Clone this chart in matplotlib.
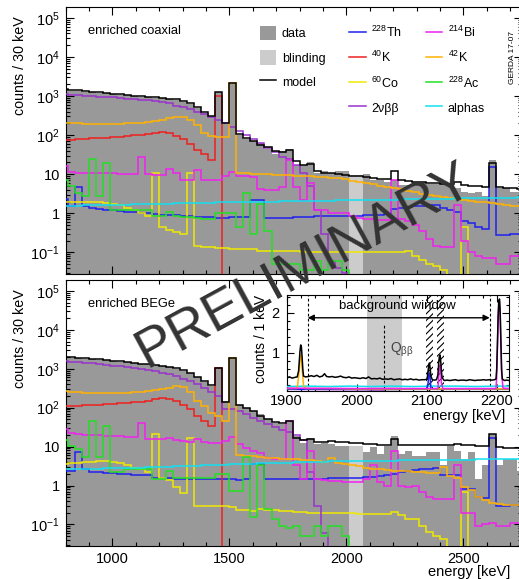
import numpy as np
import matplotlib.pyplot as plt
from matplotlib.patches import Patch
from matplotlib.lines import Line2D
from matplotlib.ticker import (FixedLocator, FixedFormatter, LogLocator,
                               NullFormatter, MultipleLocator)

plt.rcParams['font.family'] = ['Liberation Sans', 'DejaVu Sans']
plt.rcParams['mathtext.default'] = 'regular'
plt.rcParams['hatch.linewidth'] = 0.8

W, H = 519, 579

# 30 keV binning of the main spectra
edges = np.arange(780, 2761, 30)
blind_edges = [2010, 2070]
nan = np.nan

# ---------------- enriched coaxial ----------------
coax_data = [1420, 1380, 1330, 1300, 1240, 1200, 1170, 1110, 1080, 1040,
             1000, 960, 950, 900, 880, 830, 790, 720, 640, 500,
             360, 290, 1300, 190, 2100, 100, 80, 70, 62, 45,
             32, 40, 45, 17, 17, 20, 11, 12, 11, 12,
             12, nan, nan, 10, 7, 7, 6.5, 7, 5.3, 5.3,
             6.5, 6.5, 5.5, 5.5, 6, 6, 4.5, 3.5, 3.3, 3.5,
             2.8, 23, 4.5, 4.5, 3.5, 3.5]
coax_blind = 9.5
coax_model = [1500, 1450, 1400, 1350, 1300, 1250, 1200, 1150, 1100, 1060,
              1020, 990, 960, 930, 900, 860, 830, 760, 660, 520,
              380, 300, 1300, 200, 2100, 105, 85, 70, 56, 50,
              40, 36, 42, 22, 17, 18, 12, 11, 10.5, 10,
              9.5, 9.2, 9, 8.5, 8, 7.7, 7.4, 12, 7, 6.7,
              6.5, 6.3, 6.1, 5.9, 5.7, 5.5, 6.5, 5.2, 5, 4.9,
              4.8, 19, 4.6, 4.5, 4.4, 4.3]
coax_th228 = [2.3, 1.5, 4.8, 1.5, 1.4, 1.3, 1.25, 1.2, 1.15, 1.1,
              1.05, 1.0, 1.0, 0.95, 0.92, 0.9, 0.88, 0.86, 0.84, 0.82,
              0.8, 0.8, 0.78, 0.78, 0.8, 0.8, 0.8, 2.2, 2.2, 0.78,
              0.76, 0.76, 0.76, 0.8, 0.82, 0.82, 0.83, 0.83, 0.84, 0.84,
              0.84, 0.85, 0.85, 0.88, 0.9, 0.9, 0.95, 1.3, 1.4, 1.45,
              1.5, 1.5, 1.6, 1.6, 1.4, 1.25, 1.1, 0.65, 0.55, 0.45,
              0.4, 15, 0.28, 0.28, 0.3, 0.3]
coax_k40 = [75, 77, 79, 81, 83, 85, 87, 89, 92, 95,
            99, 103, 108, 114, 118, 112, 95, 78, 60, 42,
            32, 23, 1000] + [0] * 43
coax_co60 = [2.0, 2.0, 2.0, 2.0, 2.0, 1.9, 1.85, 1.75, 1.6, 1.4,
             1.2, 1.0, 0.85, 11, 0.45, 0.38, 0.33, 0.3, 10.5, 0.15,
             0.14, 0.14, 0.13, 0.13, 0.12, 0.12, 0.12, 0.12, 0.11, 0.11,
             0.11, 0.11, 0.11, 0.11, 0.1, 0.1, 0.1, 0.1, 0.1, 0.1,
             0.1, 0.1, 0.1, 0.1, 0.1, 0.1, 0.1, 0.1, 0.1, 0.11,
             0.08, 0.065, 0.05, 0.045, 0.035, 0, 0, 0.45, 0, 0,
             0, 0, 0, 0, 0, 0]
coax_2nbb = [1100, 1080, 1060, 1030, 1000, 970, 950, 920, 890, 860,
             830, 800, 770, 740, 700, 650, 560, 510, 460, 400,
             340, 290, 240, 200, 160, 125, 100, 80, 62, 48,
             36, 28, 24, 17, 11, 5, 1.2, 0.3, 0.06, 0.04,
             0.03] + [0] * 25
coax_bi214 = [16, 11.5, 10.6, 10.6, 10.6, 10.6, 10.5, 10.5, 10.4, 10.3,
              10.2, 28, 10.4, 9.8, 9.8, 14, 10.6, 7.2, 7.2, 13,
              7, 7, 7, 9, 11.5, 9, 8.8, 8.5, 4.2, 4.0,
              4.0, 4.6, 23, 4.8, 2.2, 5.9, 1.2, 1.2, 1.0, 1.0,
              1.0, 0.85, 0.75, 0.72, 0.7, 0.68, 0.68, 7.2, 0.7, 0.65,
              0.5, 0.35, 0.22, 0.15, 0.14, 0.14, 1.6, 0.2, 0.1, 0.08,
              0.07, 0.07, 0.05, 0.05, 0.08, 0.08]
coax_k42 = [210, 205, 200, 198, 195, 195, 195, 195, 198, 200,
            205, 210, 220, 235, 250, 270, 290, 290, 240, 180,
            115, 95, 90, 88, 2100, 11, 10.5, 10.3, 10.1, 10,
            9.8, 9.6, 9.4, 9.2, 9, 8.8, 8.6, 8.4, 8.2, 8,
            7.4, 6.9, 6.4, 5.9, 5.5, 5.1, 4.7, 4.4, 4.1, 3.8,
            3.5, 3.2, 3.0, 2.8, 2.65, 2.5, 2.3, 2.15, 2.05, 2.0,
            1.9, 1.8, 1.7, 1.6, 1.55, 1.5]
coax_ac228 = [7, 5, 3.3, 2.7, 25, 2.7, 19, 1.2, 1.2, 1.25,
              1.25, 1.2, 1.2, 0.85, 0.85, 1.1, 0.85, 0.8, 0.8, 0.75,
              0.7, 0.7, 1.0, 1.0, 1.0, 0.45, 3.3, 0.3, 1.7, 0.35,
              0.05, 0.05, 0.05, 0.05, 0.035, 0.035, 0.06, 0.035, 0.06, 0.06,
              0.035] + [0] * 25
coax_alpha = [1.55, 1.55, 1.57, 1.6, 1.6, 1.62, 1.63, 1.65, 1.66, 1.68,
              1.7, 1.72, 1.73, 1.75, 1.76, 1.78, 1.8, 1.82, 1.83, 1.85,
              1.86, 1.88, 1.9, 1.91, 1.92, 1.93, 1.95, 1.96, 1.97, 1.98,
              2.0, 2.02, 2.03, 2.05, 2.06, 2.08, 2.1, 2.1, 2.12, 2.13,
              2.15, 2.16, 2.18, 2.2, 2.2, 2.22, 2.24, 2.25, 2.27, 2.28,
              2.3, 2.31, 2.33, 2.35, 2.36, 2.38, 2.4, 2.42, 2.43, 2.45,
              2.47, 2.48, 2.5, 2.52, 2.53, 2.55]

# ---------------- enriched BEGe ----------------
bege_data = [1980, 1930, 1900, 1830, 1790, 1710, 1660, 1580, 1530, 1470,
             1400, 1350, 1290, 1230, 1170, 1090, 1010, 900, 770, 600,
             460, 370, 1100, 145, 2000, 115, 100, 80, 67, 50,
             41, 37, 45, 18.6, 12.6, 17, 11.5, 12.6, 11.5, 10.5,
             10.5, nan, nan, 7.1, 9.5, 6.5, 10.5, 18.6, 6.5, 7.8,
             5.8, 5.8, 7.1, 7.1, 3.3, 10.5, 7.8, 4.8, 7.1, 1.5,
             3.3, 20.6, 3.3, 4.8, 4.8, 2.4]
bege_blind = 10.5
bege_model = [2000, 1950, 1900, 1850, 1800, 1730, 1670, 1600, 1540, 1480,
              1420, 1360, 1300, 1240, 1180, 1110, 1030, 920, 780, 620,
              470, 380, 1050, 140, 1900, 120, 100, 80, 62, 52,
              42, 40, 45, 17, 14.5, 16, 13.5, 13.5, 14, 13,
              12.8, 12.5, 12.3, 12, 11.5, 11.2, 11, 15.5, 11, 11,
              11, 11, 11, 11, 11.2, 11, 12, 10.8, 10.7, 10.6,
              10.5, 21, 9.5, 9.2, 9, 9]
bege_th228 = [2.4, 2.4, 7.1, 2.6, 2.2, 2.2, 2.1, 2.1, 2.0, 2.0,
              1.9, 1.9, 1.9, 1.6, 1.6, 1.6, 1.5, 1.5, 1.45, 1.45,
              1.45, 1.45, 1.45, 1.45, 1.45, 1.4, 1.5, 3.6, 3.6, 1.45,
              1.45, 1.45, 1.45, 1.5, 1.5, 1.5, 1.5, 1.5, 1.55, 1.55,
              1.6, 1.6, 1.6, 1.65, 1.7, 1.8, 1.9, 2.0, 2.2, 2.3,
              2.5, 2.6, 2.7, 2.8, 1.9, 1.9, 1.9, 0.8, 0.8, 0.5,
              0.48, 17, 0.3, 0.3, 0.31, 0.31]
bege_k40 = [108, 110, 112, 115, 118, 120, 123, 126, 130, 133,
            137, 142, 150, 165, 178, 170, 150, 120, 95, 62,
            45, 34, 1050] + [0] * 43
bege_co60 = [3.5, 3.7, 3.9, 4.0, 4.1, 4.2, 4.2, 4.1, 3.8, 3.3,
             2.9, 2.6, 2.2, 21, 1.6, 1.4, 0.93, 0.63, 17, 0.3,
             0.3, 0.3, 0.29, 0.29, 0.28, 0.24, 0.24, 0.22, 0.25, 0.24,
             0.23, 0.22, 0.22, 0.21, 0.21, 0.2, 0.2, 0.2, 0.2, 0.2,
             0.2, 0.2, 0.19, 0.19, 0.19, 0.19, 0.19, 0.21, 0.18, 0.14,
             0.14, 0.09, 0.063, 0.05, 0.043, 0, 0, 0.67, 0, 0,
             0, 0, 0, 0, 0, 0]
bege_2nbb = [1570, 1530, 1480, 1430, 1380, 1330, 1270, 1210, 1150, 1090,
             1030, 970, 910, 850, 790, 730, 640, 560, 470, 410,
             320, 250, 200, 95, 90, 80, 67, 55, 45, 38,
             32, 27, 24, 20, 15, 2.2, 0.3, 0.06] + [0] * 28
bege_bi214 = [28, 23, 21, 20, 20, 19.5, 19, 19, 18.5, 18,
              18, 41, 16, 15.5, 15.5, 17, 15, 14, 13.5, 16,
              13, 12.6, 12.6, 14, 18, 11.5, 9, 7.5, 7, 5,
              4.8, 4.8, 45, 3.3, 1.5, 7.8, 1.5, 1.4, 1.3, 1.3,
              1.2, 1.2, 1.2, 1.5, 3.3, 1.2, 1.0, 7.8, 1.0, 0.9,
              1.0, 0.7, 0.5, 0.46, 0.46, 0.46, 3.3, 0.2, 0.2, 0.093,
              0.1, 0.11, 0.093, 0.093, 0.11, 0.11]
bege_k42 = [265, 258, 250, 245, 242, 240, 240, 240, 242, 245,
            250, 258, 268, 282, 300, 325, 355, 340, 250, 150,
            110, 75, 60, 45, 1900, 6, 5.8, 5.6, 5.4, 5.2,
            5.0, 4.9, 4.8, 4.7, 4.6, 4.5, 4.3, 4.1, 5.0, 3.8,
            3.5, 3.3, 3.1, 2.9, 2.7, 2.6, 2.5, 2.4, 2.35, 2.3,
            2.25, 2.2, 2.15, 2.1, 3.0, 1.8, 1.6, 0.9, 0.75, 0.5,
            0.42, 0.35, 0.33, 0.32, 0.32, 0.32]
bege_ac228 = [15, 10.5, 8.6, 5.3, 45, 5.3, 34, 2.2, 2.2, 2.6,
              2.6, 2.6, 2.6, 1.5, 1.5, 2.4, 1.6, 1.6, 1.6, 1.6,
              1.6, 1.6, 2.0, 2.0, 0.74, 0.74, 5.3, 0.16, 3.3, 0.25,
              0.14, 0.09, 0.08, 0.09, 0.05, 0.05, 0.09, 0.05, 0.09, 0.09,
              0.05] + [0] * 25
bege_alpha = [2.6, 2.62, 2.65, 2.68, 2.7, 2.72, 2.75, 2.78, 2.8, 2.83,
              2.86, 2.9, 2.93, 2.96, 3.0, 3.05, 3.1, 3.15, 3.2, 3.25,
              3.3, 3.35, 3.4, 3.45, 3.5, 3.55, 3.6, 3.65, 3.7, 3.75,
              3.8, 3.85, 3.9, 3.95, 4.0, 4.05, 4.1, 4.12, 4.15, 4.18,
              4.2, 4.22, 4.25, 4.28, 4.3, 4.32, 4.35, 4.38, 4.4, 4.42,
              4.45, 4.48, 4.5, 4.52, 4.55, 4.58, 4.6, 4.62, 4.65, 4.68,
              4.7, 4.72, 4.75, 4.78, 4.8, 4.8]

# ---------------- inset (1 keV, around Q_bb) ----------------
ins_model_e = [1900, 1904, 1908, 1912, 1915, 1917, 1918, 1919, 1920, 1921,
               1922, 1923, 1924, 1927, 1931, 1935, 1939, 1943, 1947, 1951,
               1954, 1957, 1961, 1965, 1969, 1973, 1977, 1981, 1985, 1989,
               1993, 1997, 2001, 2005, 2009, 2013, 2017, 2021, 2025, 2029,
               2033, 2037, 2041, 2045, 2049, 2053, 2057, 2061, 2065, 2069,
               2073, 2077, 2081, 2085, 2089, 2093, 2097, 2100, 2101, 2102,
               2103, 2104, 2105, 2106, 2108, 2111, 2114, 2116, 2117, 2118,
               2119, 2120, 2121, 2122, 2125, 2129, 2133, 2137, 2141, 2145,
               2149, 2153, 2157, 2161, 2165, 2169, 2173, 2177, 2181, 2185,
               2189, 2193, 2197, 2199, 2200, 2201, 2202, 2203, 2204, 2205,
               2206, 2207, 2208, 2211, 2214, 2218]
ins_model = [0.38, 0.40, 0.37, 0.39, 0.40, 0.55, 0.8, 1.05, 1.2, 1.15,
             0.9, 0.6, 0.42, 0.40, 0.41, 0.43, 0.41, 0.44, 0.40, 0.42,
             0.48, 0.41, 0.40, 0.41, 0.39, 0.40, 0.42, 0.39, 0.38, 0.40,
             0.37, 0.38, 0.37, 0.36, 0.38, 0.36, 0.40, 0.35, 0.36, 0.35,
             0.37, 0.34, 0.35, 0.34, 0.36, 0.33, 0.34, 0.35, 0.33, 0.34,
             0.33, 0.35, 0.33, 0.34, 0.32, 0.33, 0.33, 0.34, 0.40, 0.55,
             0.70, 0.75, 0.60, 0.42, 0.33, 0.32, 0.33, 0.45, 0.70, 0.90,
             0.95, 0.80, 0.55, 0.38, 0.31, 0.32, 0.31, 0.32, 0.33, 0.31,
             0.32, 0.32, 0.31, 0.33, 0.32, 0.31, 0.32, 0.32, 0.33, 0.32,
             0.33, 0.32, 0.33, 0.35, 0.60, 1.20, 1.90, 2.30, 2.35, 2.00,
             1.30, 0.60, 0.35, 0.31, 0.32, 0.31]
ins_alpha_e = [1900, 1930, 1960, 1990, 2020, 2050, 2080, 2110, 2140, 2170, 2200, 2218]
ins_alpha = [0.16, 0.17, 0.16, 0.17, 0.16, 0.17, 0.16, 0.17, 0.17, 0.16, 0.17, 0.17]
ins_k42_e = [1900, 1915, 1917, 1919, 1920, 1921, 1922, 1924, 1926, 1960, 2000, 2050, 2100, 2150, 2218]
ins_k42 = [0.11, 0.11, 0.4, 0.8, 0.95, 0.9, 0.6, 0.2, 0.11, 0.11, 0.1, 0.1, 0.1, 0.1, 0.1]
ins_th_e = [1900, 2000, 2100, 2102, 2103, 2104, 2105, 2106, 2108, 2150, 2218]
ins_th = [0.09, 0.09, 0.09, 0.25, 0.45, 0.5, 0.35, 0.12, 0.09, 0.09, 0.09]
ins_bi_e = [1900, 2000, 2100, 2116, 2117, 2118, 2119, 2120, 2121, 2123, 2150,
            2199, 2200, 2201, 2202, 2203, 2204, 2205, 2206, 2207, 2209, 2218]
ins_bi = [0.12, 0.11, 0.11, 0.11, 0.35, 0.6, 0.7, 0.55, 0.25, 0.11, 0.11,
          0.11, 0.4, 1.1, 1.8, 2.25, 2.3, 1.9, 1.2, 0.5, 0.12, 0.11]
ins_2nbb_e = [1900, 1950, 2000, 2039]
ins_2nbb = [0.09, 0.085, 0.08, 0.075]

BKG_WINDOW = (1930, 2190)
Q_BB = 2039
BLIND_WIN = (2014, 2064)
EXCLUDED = [(2099, 2109), (2114, 2124)]

# colours
C_DATA, C_BLIND = '#999999', '#cccccc'
C_TH, C_K40, C_CO, C_2NBB = '#2020ee', '#ee2020', '#f0e800', '#9933cc'
C_BI, C_K42, C_AC, C_ALPHA = '#ee22ee', '#ffb300', '#22e022', '#10e0f0'

ytick_vals = [1e-1, 1, 10, 1e2, 1e3, 1e4, 1e5]
ytick_text = ['$10^{-1}$', '1', '10', '$10^{2}$', '$10^{3}$', '$10^{4}$', '$10^{5}$']


def style_main(ax):
    ax.set_yscale('log')
    ax.set_xlim(800, 2750)
    ax.set_ylim(0.028, 1.9e5)
    ax.yaxis.set_major_locator(FixedLocator(ytick_vals))
    ax.yaxis.set_major_formatter(FixedFormatter(ytick_text))
    ax.yaxis.set_minor_locator(LogLocator(base=10, subs=np.arange(2, 10), numticks=30))
    ax.yaxis.set_minor_formatter(NullFormatter())
    ax.xaxis.set_major_locator(MultipleLocator(500))
    ax.xaxis.set_minor_locator(MultipleLocator(100))
    ax.tick_params(which='both', direction='in', top=True, right=True,
                   labelsize=10.5, width=0.8)
    ax.tick_params(which='major', length=6, pad=4)
    ax.tick_params(which='minor', length=3)
    ax.set_ylabel('counts / 30 keV', fontsize=10.3, loc='top')
    ax.yaxis.set_label_coords(-0.084, 0.965)


def draw_spectrum(ax, data, blind, model, comps):
    d = np.array(data, dtype=float)
    d = np.where(np.isnan(d), 1e-4, d)
    ax.stairs(d, edges, fill=True, color=C_DATA, baseline=1e-4, lw=0, zorder=1)
    ax.stairs([blind], blind_edges, fill=True, color=C_BLIND, baseline=1e-4,
              lw=0, zorder=1.5)
    for vals, c in comps:
        v = np.array(vals, dtype=float)
        ax.stairs(np.where(v > 0, v, 1e-4), edges, color=c, lw=1.1,
                  baseline=None, zorder=3)
    ax.stairs(model, edges, color='black', lw=1.1, baseline=None, zorder=4)


fig = plt.figure(figsize=(W / 100, H / 100), dpi=100)
ax_top = fig.add_axes([65.5 / W, 1 - 274 / H, 456.5 / W, 267 / H])
ax_bot = fig.add_axes([65.5 / W, 1 - 546 / H, 456.5 / W, 266 / H])

draw_spectrum(ax_top, coax_data, coax_blind, coax_model,
              [(coax_th228, C_TH), (coax_k40, C_K40), (coax_co60, C_CO),
               (coax_2nbb, C_2NBB), (coax_bi214, C_BI), (coax_k42, C_K42),
               (coax_ac228, C_AC), (coax_alpha, C_ALPHA)])
draw_spectrum(ax_bot, bege_data, bege_blind, bege_model,
              [(bege_th228, C_TH), (bege_k40, C_K40), (bege_co60, C_CO),
               (bege_2nbb, C_2NBB), (bege_bi214, C_BI), (bege_k42, C_K42),
               (bege_ac228, C_AC), (bege_alpha, C_ALPHA)])

style_main(ax_top)
style_main(ax_bot)
ax_top.tick_params(labelbottom=False)
ax_bot.set_xlabel('energy [keV]', fontsize=10.5, loc='right')
ax_bot.xaxis.set_label_coords(0.974, -0.071)

ax_top.text(0.049, 0.91, 'enriched coaxial', transform=ax_top.transAxes,
            fontsize=9.3, va='center')
ax_bot.text(0.049, 0.91, 'enriched BEGe', transform=ax_bot.transAxes,
            fontsize=9.3, va='center')

# legend (3 columns, first column has an empty slot)
handles = [Patch(facecolor=C_DATA, edgecolor='none'),
           Patch(facecolor=C_BLIND, edgecolor='none'),
           Line2D([], [], color='black', lw=1.1),
           Line2D([], [], color='none'),
           Line2D([], [], color=C_TH, lw=1.1),
           Line2D([], [], color=C_K40, lw=1.1),
           Line2D([], [], color=C_CO, lw=1.1),
           Line2D([], [], color=C_2NBB, lw=1.1),
           Line2D([], [], color=C_BI, lw=1.1),
           Line2D([], [], color=C_K42, lw=1.1),
           Line2D([], [], color=C_AC, lw=1.1),
           Line2D([], [], color=C_ALPHA, lw=1.1)]
labels = ['data', 'blinding', 'model', '',
          '$^{228}$Th', '$^{40}$K', '$^{60}$Co', '2νββ',
          '$^{214}$Bi', '$^{42}$K', '$^{228}$Ac', 'alphas']
ax_top.legend(handles, labels, ncol=3, loc='upper left',
              bbox_to_anchor=(260 / W, 1 - 25 / H), bbox_transform=fig.transFigure,
              frameon=False, fontsize=9, handlelength=1.3, handleheight=1.4,
              handletextpad=0.45, columnspacing=1.9, labelspacing=0.8,
              borderpad=0, borderaxespad=0)

# inset
axi = fig.add_axes([286.7 / W, 1 - 390.5 / H, 222.6 / W, 95.5 / H])
axi.set_facecolor('white')
axi.set_xlim(1900, 2218)
axi.set_ylim(0.06, 2.45)
axi.axvspan(*BLIND_WIN, color=C_BLIND, lw=0, zorder=0)
for lo, hi in EXCLUDED:
    axi.axvspan(lo, hi, facecolor='none', edgecolor='black', hatch='/////',
                lw=0, zorder=1)
for e in BKG_WINDOW:
    axi.axvline(e, color='black', ls=(0, (2.5, 2)), lw=0.8, zorder=2)
axi.plot([Q_BB, Q_BB], [0, 1.75], color='black', ls=(0, (2.5, 2)), lw=0.8, zorder=2)
axi.annotate('', xy=(BKG_WINDOW[1], 1.88), xytext=(BKG_WINDOW[0], 1.88),
             arrowprops=dict(arrowstyle='<|-|>', color='black', lw=1,
                             mutation_scale=9, shrinkA=0, shrinkB=0))
axi.text(2058, 2.17, 'background window', ha='center', va='center', fontsize=9.5)
axi.text(2047, 1.08, r'Q$_{\beta\beta}$', ha='left', va='center', fontsize=10,
         color='#444444')
axi.plot(ins_2nbb_e, ins_2nbb, color=C_2NBB, lw=1.1, zorder=3)
axi.plot(ins_alpha_e, ins_alpha, color=C_ALPHA, lw=1.1, zorder=3)
axi.plot(ins_th_e, ins_th, color=C_TH, lw=1.1, zorder=3)
axi.plot(ins_k42_e, ins_k42, color=C_K42, lw=1.1, zorder=3)
axi.plot(ins_bi_e, ins_bi, color=C_BI, lw=1.1, zorder=3)
axi.plot(ins_model_e, ins_model, color='black', lw=1.1, zorder=4)
axi.xaxis.set_major_locator(MultipleLocator(100))
axi.xaxis.set_minor_locator(MultipleLocator(20))
axi.yaxis.set_major_locator(FixedLocator([1, 2]))
axi.yaxis.set_minor_locator(MultipleLocator(0.2))
axi.tick_params(which='both', direction='in', top=True, right=True,
                labelsize=10.5, width=0.8)
axi.tick_params(which='major', length=5)
axi.tick_params(which='minor', length=2.5)
axi.tick_params(axis='x', pad=2.5)
axi.tick_params(axis='y', pad=5)
axi.set_ylabel('counts / 1 keV', fontsize=10, loc='top')
axi.yaxis.set_label_coords(-0.085, 1.0)
axi.set_xlabel('energy [keV]', fontsize=10.5, loc='right')
axi.xaxis.set_label_coords(0.981, -0.19)

fig.text(305 / W, 1 - 266 / H, 'PRELIMINARY', fontsize=40, rotation=28.5,
         color='#333333', ha='center', va='center', rotation_mode='anchor',
         zorder=10)
fig.text(513 / W, 1 - 57 / H, 'GERDA 17-07', rotation=90, fontsize=6,
         ha='center', va='center')

fig.savefig('out.png', dpi=100)
